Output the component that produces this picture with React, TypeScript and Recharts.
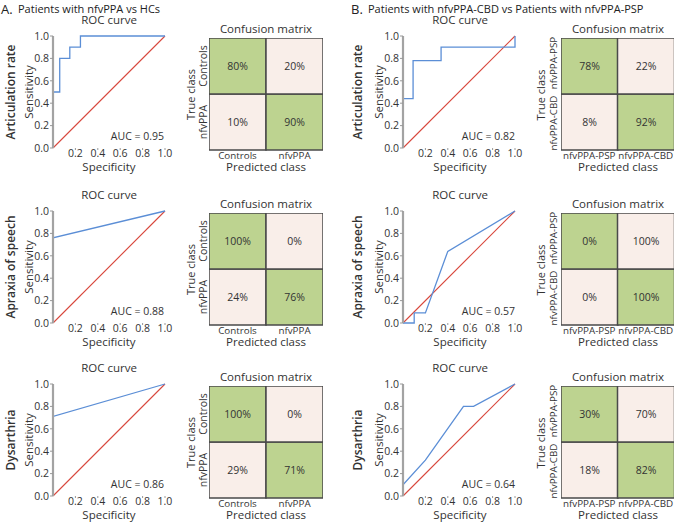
import { LineChart, Line, XAxis, YAxis, BarChart, Bar, Cell, LabelList } from "recharts";

const FONT = "'Open Sans', 'Noto Sans', sans-serif";
const BLUE = "#5b8ed6";
const RED = "#d8473c";
const GREEN = "#bdd390";
const PINK = "#f9eee9";
const INK = "#333";

const rowLabels = ["Articulation rate", "Apraxia of speech", "Dysarthria"];
const rowTops = [0, 175, 348];

const sensTicks = [0, 0.2, 0.4, 0.6, 0.8, 1.0];
const specTicks = [0.2, 0.4, 0.6, 0.8, 1.0];
const chance = [
  { x: 0, y: 0 },
  { x: 1, y: 1 },
];

// A. nfvPPA vs HCs
const rocAArtic = [
  { x: 0, y: 0 },
  { x: 0, y: 0.5 },
  { x: 0.06, y: 0.5 },
  { x: 0.06, y: 0.8 },
  { x: 0.15, y: 0.8 },
  { x: 0.15, y: 0.9 },
  { x: 0.245, y: 0.9 },
  { x: 0.245, y: 1.0 },
  { x: 1, y: 1.0 },
];
const rocAAos = [
  { x: 0, y: 0 },
  { x: 0, y: 0.76 },
  { x: 1, y: 1 },
];
const rocADys = [
  { x: 0, y: 0 },
  { x: 0, y: 0.71 },
  { x: 1, y: 1 },
];
const aucA = [0.95, 0.88, 0.86];
const classesA = ["Controls", "nfvPPA"];
const cmAArtic = [[80, 20], [10, 90]];
const cmAAos = [[100, 0], [24, 76]];
const cmADys = [[100, 0], [29, 71]];

// B. nfvPPA-CBD vs nfvPPA-PSP
const rocBArtic = [
  { x: 0, y: 0 },
  { x: 0, y: 0.44 },
  { x: 0.09, y: 0.44 },
  { x: 0.09, y: 0.78 },
  { x: 0.34, y: 0.78 },
  { x: 0.34, y: 0.9 },
  { x: 1.0, y: 0.9 },
  { x: 1.0, y: 1.0 },
];
const rocBAos = [
  { x: 0, y: 0 },
  { x: 0.1, y: 0 },
  { x: 0.1, y: 0.09 },
  { x: 0.2, y: 0.09 },
  { x: 0.4, y: 0.64 },
  { x: 1, y: 1 },
];
const rocBDys = [
  { x: 0, y: 0 },
  { x: 0, y: 0.1 },
  { x: 0.2, y: 0.32 },
  { x: 0.54, y: 0.8 },
  { x: 0.63, y: 0.8 },
  { x: 1, y: 1 },
];
const aucB = [0.82, 0.57, 0.64];
const classesB = ["nfvPPA-PSP", "nfvPPA-CBD"];
const cmBArtic = [[78, 22], [8, 92]];
const cmBAos = [[0, 100], [0, 100]];
const cmBDys = [[30, 70], [18, 82]];

const cellUnit = 1;

const fmt = (v: number) => v.toFixed(1);

function Roc({ left, top, data }: { left: number; top: number; data: { x: number; y: number }[] }) {
  return (
    <div style={{ position: "absolute", left, top }}>
      <LineChart width={180} height={182} margin={{ top: 36, right: 15, bottom: 0, left: 0 }}>
        <XAxis
          type="number"
          dataKey="x"
          domain={[0, 1]}
          ticks={specTicks}
          tickFormatter={fmt}
          axisLine={false}
          tickLine={{ stroke: "#999" }}
          tickSize={2}
          tickMargin={0}
          height={34}
          tick={{ fontSize: 10.5, fill: INK, fontFamily: FONT }}
          allowDuplicatedCategory={false}
        />
        <YAxis
          type="number"
          domain={[0, 1]}
          ticks={sensTicks}
          tickFormatter={fmt}
          width={53}
          axisLine={{ stroke: "#a3a3a3", strokeWidth: 2.2 }}
          tickLine={{ stroke: "#999" }}
          tickSize={3}
          tickMargin={1}
          tick={{ fontSize: 10.5, fill: INK, fontFamily: FONT }}
        />
        <Line data={chance} dataKey="y" type="linear" stroke={RED} strokeWidth={1.1} dot={false} isAnimationActive={false} />
        <Line data={data} dataKey="y" type="linear" stroke={BLUE} strokeWidth={1.3} dot={false} isAnimationActive={false} />
      </LineChart>
    </div>
  );
}

function Matrix({ left, top, width, classes, cm }: { left: number; top: number; width: number; classes: string[]; cm: number[][] }) {
  const data = classes.map((c, j) => ({
    predicted: c,
    upper: cellUnit,
    lower: cellUnit,
    upperPct: cm[0][j],
    lowerPct: cm[1][j],
  }));
  const pct = (p: any) => (
    <text
      x={p.x + p.width / 2}
      y={p.y + p.height / 2}
      textAnchor="middle"
      dominantBaseline="central"
      fill={INK}
      fontSize={10.5}
      fontFamily={FONT}
    >
      {`${p.value}%`}
    </text>
  );
  return (
    <div style={{ position: "absolute", left, top }}>
      <BarChart width={width} height={130} data={data} margin={{ top: 0, right: 0, bottom: 0, left: 0 }} barCategoryGap={0}>
        <XAxis
          dataKey="predicted"
          axisLine={false}
          tickLine={false}
          tickSize={0}
          tickMargin={2}
          height={18}
          interval={0}
          tick={{ fontSize: 9.8, fill: INK, fontFamily: FONT }}
        />
        <YAxis type="number" domain={[0, 2]} hide />
        <Bar dataKey="lower" stackId="m" stroke="#4a4a4a" strokeWidth={1.5} isAnimationActive={false}>
          {data.map((_, j) => (
            <Cell key={`l-${j}`} fill={j === 1 ? GREEN : PINK} />
          ))}
          <LabelList dataKey="lowerPct" content={pct} />
        </Bar>
        <Bar dataKey="upper" stackId="m" stroke="#4a4a4a" strokeWidth={1.5} isAnimationActive={false}>
          {data.map((_, j) => (
            <Cell key={`u-${j}`} fill={j === 0 ? GREEN : PINK} />
          ))}
          <LabelList dataKey="upperPct" content={pct} />
        </Bar>
      </BarChart>
    </div>
  );
}

const rocA = [rocAArtic, rocAAos, rocADys];
const rocB = [rocBArtic, rocBAos, rocBDys];
const cmA = [cmAArtic, cmAAos, cmADys];
const cmB = [cmBArtic, cmBAos, cmBDys];

function Rot({ x, y, children, size = 10.5, weight = 400 }: any) {
  return (
    <text
      transform={`translate(${x}, ${y}) rotate(-90)`}
      textAnchor="middle"
      dominantBaseline="central"
      fontSize={size}
      fontWeight={weight}
      fill={INK}
    >
      {children}
    </text>
  );
}

export default function App() {
  return (
    <div style={{ position: "absolute", left: 0, top: 0, width: 675, height: 523, background: "#fff", fontFamily: FONT, overflow: "hidden" }}>
      {rowTops.map((dy, r) => (
        <div key={`row-${r}`}>
          <Roc left={0} top={dy} data={rocA[r]} />
          <Roc left={350} top={dy} data={rocB[r]} />
          <Matrix left={209} top={38 + dy} width={114} classes={classesA} cm={cmA[r]} />
          <Matrix left={561} top={38 + dy} width={113} classes={classesB} cm={cmB[r]} />
        </div>
      ))}
      <svg width={675} height={523} style={{ position: "absolute", left: 0, top: 0, pointerEvents: "none" }} fontFamily={FONT}>
        <text x={1} y={14} fontSize={13} fill="#222">A.</text>
        <text x={18} y={12.5} fontSize={11} fill="#222">Patients with nfvPPA vs HCs</text>
        <text x={351} y={14} fontSize={13} fill="#222">B.</text>
        <text x={368} y={12.5} fontSize={11} fill="#222">Patients with nfvPPA-CBD vs Patients with nfvPPA-PSP</text>
        {rowTops.map((dy, r) => (
          <g key={`t-${r}`}>
            <Rot x={10} y={92 + dy} size={12} weight={600}>{rowLabels[r]}</Rot>
            <Rot x={357} y={92 + dy} size={12} weight={600}>{rowLabels[r]}</Rot>
            <Rot x={28} y={92 + dy} size={11.5}>Sensitivity</Rot>
            <Rot x={378} y={92 + dy} size={11.5}>Sensitivity</Rot>
            <text x={109} y={170.5 + dy} textAnchor="middle" fontSize={11.5} fill={INK}>Specificity</text>
            <text x={460} y={170.5 + dy} textAnchor="middle" fontSize={11.5} fill={INK}>Specificity</text>
            <text x={109} y={24 + dy} textAnchor="middle" fontSize={11.5} fill={INK}>ROC curve</text>
            <text x={460} y={24 + dy} textAnchor="middle" fontSize={11.5} fill={INK}>ROC curve</text>
            <text x={164} y={140 + dy} textAnchor="end" fontSize={10.5} fill={INK}>{`AUC = ${aucA[r].toFixed(2)}`}</text>
            <text x={515} y={140 + dy} textAnchor="end" fontSize={10.5} fill={INK}>{`AUC = ${aucB[r].toFixed(2)}`}</text>
            <text x={266} y={33 + dy} textAnchor="middle" fontSize={11.5} fill={INK}>Confusion matrix</text>
            <text x={618} y={33 + dy} textAnchor="middle" fontSize={11.5} fill={INK}>Confusion matrix</text>
            <text x={266} y={171 + dy} textAnchor="middle" fontSize={11.5} fill={INK}>Predicted class</text>
            <text x={618} y={171 + dy} textAnchor="middle" fontSize={11.5} fill={INK}>Predicted class</text>
            <Rot x={190} y={94.5 + dy} size={11}>True class</Rot>
            <Rot x={540} y={95 + dy} size={11}>True class</Rot>
            <Rot x={203} y={66 + dy}>{classesA[0]}</Rot>
            <Rot x={203} y={122 + dy}>{classesA[1]}</Rot>
            <Rot x={553} y={63 + dy} size={9.8}>{classesB[0]}</Rot>
            <Rot x={553} y={123 + dy} size={9.8}>{classesB[1]}</Rot>
          </g>
        ))}
      </svg>
    </div>
  );
}
